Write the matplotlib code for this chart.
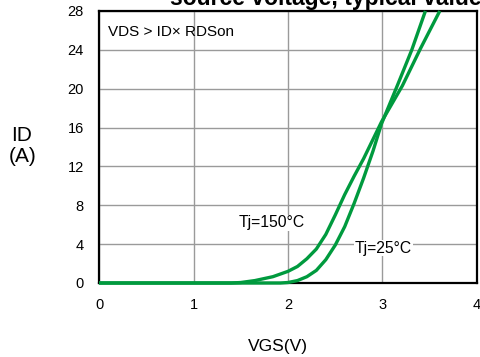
import matplotlib
matplotlib.use('Agg')
import matplotlib.pyplot as plt

plt.rcParams['font.family'] = ['Liberation Sans', 'DejaVu Sans']

# values
vgs_150 = [0, 1.4, 1.5, 1.65, 1.84, 2.0, 2.1, 2.2, 2.3, 2.4, 2.5, 2.6, 2.7, 2.8, 2.9, 2.99, 3.21, 3.40, 3.606]
id_150 = [0, 0, 0.05, 0.25, 0.65, 1.2, 1.7, 2.5, 3.5, 5.0, 7.0, 9.1, 11.0, 12.8, 14.8, 16.6, 20.3, 24.1, 28]

vgs_25 = [0, 1.92, 2.0, 2.1, 2.2, 2.3, 2.4, 2.5, 2.6, 2.7, 2.8, 2.9, 2.99, 3.16, 3.31, 3.454]
id_25 = [0, 0, 0.05, 0.25, 0.65, 1.3, 2.4, 3.9, 5.8, 8.2, 10.8, 13.6, 16.4, 20.4, 24.0, 28]

x_ticks = [0, 1, 2, 3, 4]
y_ticks = [0, 4, 8, 12, 16, 20, 24, 28]

GREEN = '#009a3e'

fig = plt.figure(figsize=(4.8, 3.57), dpi=100)
ax = fig.add_axes([99 / 480, 1 - 283 / 357, 378 / 480, 272 / 357])

ax.plot(vgs_150, id_150, color=GREEN, lw=2.4, clip_on=False, zorder=5,
        solid_capstyle='butt', solid_joinstyle='round')
ax.plot(vgs_25, id_25, color=GREEN, lw=2.4, clip_on=False, zorder=5,
        solid_capstyle='butt', solid_joinstyle='round')

ax.set_xlim(0, 4)
ax.set_ylim(0, 28)
ax.set_xticks(x_ticks)
ax.set_yticks(y_ticks)
ax.tick_params(length=0, labelsize=10.5, pad=11)
ax.grid(True, color='#9a9a9a', lw=1.0)
ax.set_axisbelow(True)
for sp in ax.spines.values():
    sp.set_linewidth(1.6)
    sp.set_color('black')

ax.text(0.1, 25.85, 'VDS > ID\u00d7 RDSon', fontsize=11, va='center', ha='left')
ax.text(1.48, 6.2, 'Tj=150\u00b0C', fontsize=11.3, va='center', ha='left',
        bbox=dict(facecolor='white', edgecolor='none', pad=0.5), zorder=3)
ax.text(2.71, 3.6, 'Tj=25\u00b0C', fontsize=11.3, va='center', ha='left',
        bbox=dict(facecolor='white', edgecolor='none', pad=0.5), zorder=3)

fig.text(278 / 480, 1 - 346 / 357, 'VGS(V)', fontsize=12.5, ha='center', va='center')
fig.text(22 / 480, 1 - 135.5 / 357, 'ID', fontsize=15, ha='center', va='center')
fig.text(23 / 480, 1 - 157 / 357, '(A)', fontsize=15, ha='center', va='center')
# title sits mostly above the picture, only its lower edge shows
fig.text(170 / 480, 1 - 5 / 357, 'source voltage, typical values', fontsize=16.5,
         fontweight='bold', ha='left', va='baseline')

fig.savefig('out.png', dpi=100)
